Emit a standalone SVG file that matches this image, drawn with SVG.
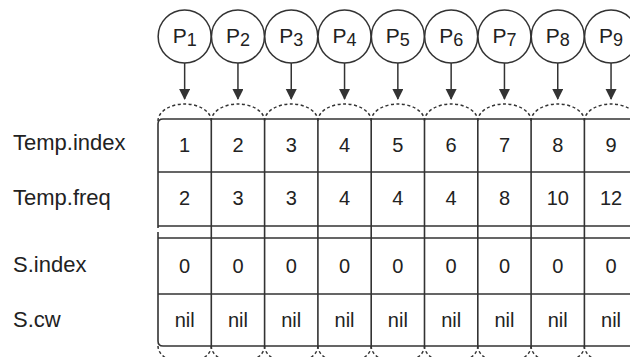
<svg xmlns="http://www.w3.org/2000/svg" width="630" height="357" viewBox="0 0 630 357">
<style>
.bg{fill:#ffffff}
.circ{fill:#ffffff;stroke:#333;stroke-width:1.5}
.pt{font-family:"Liberation Sans",Arial,sans-serif;font-size:21px;fill:#222;text-anchor:middle}
.sub{font-size:18px}
.arr{stroke:#333;stroke-width:1.5;fill:none}
.grid{stroke:#333;stroke-width:1.6;fill:none}
.dash{stroke:#333;stroke-width:1.5;fill:none;stroke-dasharray:3 2.5}
.lab{font-family:"Liberation Sans",Arial,sans-serif;font-size:22px;fill:#222}
.num{font-family:"Liberation Sans",Arial,sans-serif;font-size:20px;fill:#222;text-anchor:middle}
</style>
<defs>
<marker id="ah" markerUnits="userSpaceOnUse" markerWidth="11" markerHeight="12" refX="10" refY="5.5" orient="auto">
<path d="M0,0 L11,5.5 L0,11 z" fill="#333"/>
</marker>
</defs>
<rect class="bg" x="0" y="0" width="630" height="357"/>

<g id="P1"><circle class="circ" cx="184.65" cy="36.5" r="26.5"/><text class="pt" x="184.65" y="43">P<tspan class="sub" dy="3">1</tspan></text></g>
<g id="P2"><circle class="circ" cx="237.95" cy="36.5" r="26.5"/><text class="pt" x="237.95" y="43">P<tspan class="sub" dy="3">2</tspan></text></g>
<g id="P3"><circle class="circ" cx="291.25" cy="36.5" r="26.5"/><text class="pt" x="291.25" y="43">P<tspan class="sub" dy="3">3</tspan></text></g>
<g id="P4"><circle class="circ" cx="344.55" cy="36.5" r="26.5"/><text class="pt" x="344.55" y="43">P<tspan class="sub" dy="3">4</tspan></text></g>
<g id="P5"><circle class="circ" cx="397.85" cy="36.5" r="26.5"/><text class="pt" x="397.85" y="43">P<tspan class="sub" dy="3">5</tspan></text></g>
<g id="P6"><circle class="circ" cx="451.15" cy="36.5" r="26.5"/><text class="pt" x="451.15" y="43">P<tspan class="sub" dy="3">6</tspan></text></g>
<g id="P7"><circle class="circ" cx="504.45" cy="36.5" r="26.5"/><text class="pt" x="504.45" y="43">P<tspan class="sub" dy="3">7</tspan></text></g>
<g id="P8"><circle class="circ" cx="557.75" cy="36.5" r="26.5"/><text class="pt" x="557.75" y="43">P<tspan class="sub" dy="3">8</tspan></text></g>
<g id="P9"><circle class="circ" cx="611.05" cy="36.5" r="26.5"/><text class="pt" x="611.05" y="43">P<tspan class="sub" dy="3">9</tspan></text></g>

<g id="connectors">
<line class="arr" x1="184.65" y1="63" x2="184.65" y2="99" marker-end="url(#ah)"/>
<line class="arr" x1="237.95" y1="63" x2="237.95" y2="99" marker-end="url(#ah)"/>
<line class="arr" x1="291.25" y1="63" x2="291.25" y2="99" marker-end="url(#ah)"/>
<line class="arr" x1="344.55" y1="63" x2="344.55" y2="99" marker-end="url(#ah)"/>
<line class="arr" x1="397.85" y1="63" x2="397.85" y2="99" marker-end="url(#ah)"/>
<line class="arr" x1="451.15" y1="63" x2="451.15" y2="99" marker-end="url(#ah)"/>
<line class="arr" x1="504.45" y1="63" x2="504.45" y2="99" marker-end="url(#ah)"/>
<line class="arr" x1="557.75" y1="63" x2="557.75" y2="99" marker-end="url(#ah)"/>
<line class="arr" x1="611.05" y1="63" x2="611.05" y2="99" marker-end="url(#ah)"/>
</g>

<g id="labels">
<text class="lab" x="13" y="150">Temp.index</text>
<text class="lab" x="13" y="205">Temp.freq</text>
<text class="lab" x="13" y="272">S.index</text>
<text class="lab" x="13" y="327">S.cw</text>
</g>

<g id="table">
<g id="arcs">
<path class="dash" d="M158,121 A26.65,17 0 0 1 211.3,121"/>
<path class="dash" d="M211.3,121 A26.65,17 0 0 1 264.6,121"/>
<path class="dash" d="M264.6,121 A26.65,17 0 0 1 317.9,121"/>
<path class="dash" d="M317.9,121 A26.65,17 0 0 1 371.2,121"/>
<path class="dash" d="M371.2,121 A26.65,17 0 0 1 424.5,121"/>
<path class="dash" d="M424.5,121 A26.65,17 0 0 1 477.8,121"/>
<path class="dash" d="M477.8,121 A26.65,17 0 0 1 531.1,121"/>
<path class="dash" d="M531.1,121 A26.65,17 0 0 1 584.4,121"/>
<path class="dash" d="M584.4,121 A26.65,17 0 0 1 637.7,121"/>
<path class="dash" d="M158,346 A26.65,17 0 0 0 211.3,346"/>
<path class="dash" d="M211.3,346 A26.65,17 0 0 0 264.6,346"/>
<path class="dash" d="M264.6,346 A26.65,17 0 0 0 317.9,346"/>
<path class="dash" d="M317.9,346 A26.65,17 0 0 0 371.2,346"/>
<path class="dash" d="M371.2,346 A26.65,17 0 0 0 424.5,346"/>
<path class="dash" d="M424.5,346 A26.65,17 0 0 0 477.8,346"/>
<path class="dash" d="M477.8,346 A26.65,17 0 0 0 531.1,346"/>
<path class="dash" d="M531.1,346 A26.65,17 0 0 0 584.4,346"/>
<path class="dash" d="M584.4,346 A26.65,17 0 0 0 637.7,346"/>
</g>
<path class="grid" d="M630,119 H163 Q158,119 158,124 V228 M158,232 V341 Q158,346 163,346 H630"/>
<path class="grid" d="M158,172 H630 M158,226 H630 M158,238 H630 M158,294 H630"/>
<path class="grid" d="M211.3,121 V346 M264.6,121 V346 M317.9,121 V346 M371.2,121 V346 M424.5,121 V346 M477.8,121 V346 M531.1,121 V346 M584.4,121 V346"/>
<g id="row-index">
<text class="num" x="184.65" y="152">1</text><text class="num" x="237.95" y="152">2</text><text class="num" x="291.25" y="152">3</text><text class="num" x="344.55" y="152">4</text><text class="num" x="397.85" y="152">5</text><text class="num" x="451.15" y="152">6</text><text class="num" x="504.45" y="152">7</text><text class="num" x="557.75" y="152">8</text><text class="num" x="611.05" y="152">9</text>
</g>
<g id="row-freq">
<text class="num" x="184.65" y="205">2</text><text class="num" x="237.95" y="205">3</text><text class="num" x="291.25" y="205">3</text><text class="num" x="344.55" y="205">4</text><text class="num" x="397.85" y="205">4</text><text class="num" x="451.15" y="205">4</text><text class="num" x="504.45" y="205">8</text><text class="num" x="557.75" y="205">10</text><text class="num" x="611.05" y="205">12</text>
</g>
<g id="row-sindex">
<text class="num" x="184.65" y="273">0</text><text class="num" x="237.95" y="273">0</text><text class="num" x="291.25" y="273">0</text><text class="num" x="344.55" y="273">0</text><text class="num" x="397.85" y="273">0</text><text class="num" x="451.15" y="273">0</text><text class="num" x="504.45" y="273">0</text><text class="num" x="557.75" y="273">0</text><text class="num" x="611.05" y="273">0</text>
</g>
<g id="row-cw">
<text class="num" x="184.65" y="327">nil</text><text class="num" x="237.95" y="327">nil</text><text class="num" x="291.25" y="327">nil</text><text class="num" x="344.55" y="327">nil</text><text class="num" x="397.85" y="327">nil</text><text class="num" x="451.15" y="327">nil</text><text class="num" x="504.45" y="327">nil</text><text class="num" x="557.75" y="327">nil</text><text class="num" x="611.05" y="327">nil</text>
</g>
</g>
</svg>
